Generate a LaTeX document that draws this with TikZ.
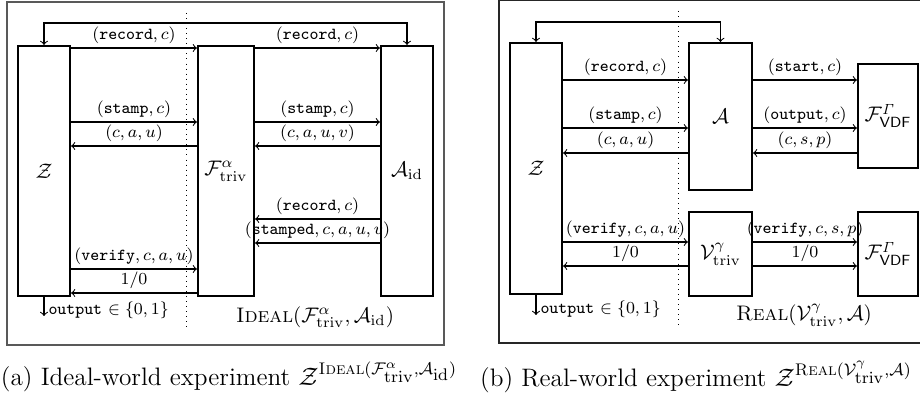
\documentclass[tikz,border=0pt]{standalone}
\usepackage{amsmath,amssymb}
\newcommand\pxs{0.475pt}
\begin{document}
\begin{tikzpicture}[x=0.475pt,y=-0.475pt,
  box/.style={draw, line width=1pt, inner sep=0pt, minimum width=#1*\pxs},
  arr/.style={->, line width=0.5pt},
  lbl/.style={above, font=\footnotesize, inner sep=1.6pt},
  frame/.style={line width=0.6pt},
  captxt/.style={font=\large, inner sep=1pt}]
\useasboundingbox (0,0) rectangle (920,397);
% ---------------- left panel ----------------
\draw[frame, black!65] (7,2) rectangle (444,345);
\draw[dotted] (186,13) -- (186,327);
\node[box=52, minimum height=250*\pxs] (Z1) at (44,171) {$\mathcal{Z}$};
\node[box=56, minimum height=250*\pxs] (F1) at (226,171) {$\mathcal{F}^{\alpha}_{\mathrm{triv}}$};
\node[box=52, minimum height=250*\pxs] (A1) at (407,171) {$\mathcal{A}_{\mathrm{id}}$};
\draw[<->, line width=0.5pt] (Z1.north) -- (Z1.north |- 0,23) -- (A1.north |- 0,23) -- (A1.north);
\draw[arr] (Z1.east |- 0,48) -- (F1.west |- 0,48) node[midway,lbl] {$(\texttt{record},c)$};
\draw[arr] (F1.east |- 0,48) -- (A1.west |- 0,48) node[midway,lbl] {$(\texttt{record},c)$};
\draw[arr] (Z1.east |- 0,122) -- (F1.west |- 0,122) node[midway,lbl] {$(\texttt{stamp},c)$};
\draw[arr] (F1.east |- 0,122) -- (A1.west |- 0,122) node[midway,lbl] {$(\texttt{stamp},c)$};
\draw[arr] (F1.west |- 0,146) -- (Z1.east |- 0,146) node[midway,lbl] {$(c,a,u)$};
\draw[arr] (A1.west |- 0,146) -- (F1.east |- 0,146) node[midway,lbl] {$(c,a,u,v)$};
\draw[arr] (A1.west |- 0,219) -- (F1.east |- 0,219) node[midway,lbl] {$(\texttt{record},c)$};
\draw[arr] (A1.west |- 0,243) -- (F1.east |- 0,243) node[midway,lbl] {$(\texttt{stamped},c,a,u,v)$};
\draw[arr] (Z1.east |- 0,269) -- (F1.west |- 0,269) node[midway,lbl] {$(\texttt{verify},c,a,u)$};
\draw[arr] (F1.west |- 0,293) -- (Z1.east |- 0,293) node[midway,lbl] {$1/0$};
\coordinate (o1) at (44,316);
\draw[arr] (Z1.south) -- (o1);
\node[anchor=west, font=\footnotesize, inner sep=1pt] (ol1) at (46,310) {\texttt{output} $\in\{0,1\}$};
\node (idl) at (315,317) {$\textsc{Ideal}(\mathcal{F}^{\alpha}_{\mathrm{triv}},\mathcal{A}_{\mathrm{id}})$};
\node[captxt] (capa) at (229,377) {(a) Ideal-world experiment $\mathcal{Z}^{\textsc{Ideal}(\mathcal{F}^{\alpha}_{\scriptstyle\mathrm{triv}},\mathcal{A}_{\scriptstyle\mathrm{id}})}$};
% ---------------- right panel ----------------
\draw[frame, black!85] (499,0.5) rectangle (930,343);
\draw[dotted] (678,11) -- (678,325);
\node[box=52, minimum height=251*\pxs] (Z2) at (536,168.5) {$\mathcal{Z}$};
\node[box=63, minimum height=147*\pxs] (A2) at (720.5,116.5) {$\mathcal{A}$};
\node[box=60, minimum height=104*\pxs] (V1) at (888,116) {$\mathcal{F}^{\mathit{\Gamma}}_{\mathsf{VDF}}$};
\node[box=63, minimum height=84*\pxs] (Vt) at (720.5,254) {$\mathcal{V}^{\gamma}_{\mathrm{triv}}$};
\node[box=60, minimum height=84*\pxs] (V2) at (888,254) {$\mathcal{F}^{\mathit{\Gamma}}_{\mathsf{VDF}}$};
\draw[<->, line width=0.5pt] (Z2.north) -- (Z2.north |- 0,22) -- (A2.north |- 0,22) -- (A2.north);
\draw[arr] (Z2.east |- 0,80) -- (A2.west |- 0,80) node[midway,lbl] {$(\texttt{record},c)$};
\draw[arr] (Z2.east |- 0,128) -- (A2.west |- 0,128) node[midway,lbl] {$(\texttt{stamp},c)$};
\draw[arr] (A2.west |- 0,153) -- (Z2.east |- 0,153) node[midway,lbl] {$(c,a,u)$};
\draw[arr] (A2.east |- 0,80) -- (V1.west |- 0,80) node[midway,lbl] {$(\texttt{start},c)$};
\draw[arr] (A2.east |- 0,128) -- (V1.west |- 0,128) node[midway,lbl] {$(\texttt{output},c)$};
\draw[arr] (V1.west |- 0,153) -- (A2.east |- 0,153) node[midway,lbl] {$(c,s,p)$};
\draw[arr] (Z2.east |- 0,242) -- (Vt.west |- 0,242) node[midway,lbl] {$(\texttt{verify},c,a,u)$};
\draw[arr] (Vt.west |- 0,266) -- (Z2.east |- 0,266) node[midway,lbl] {$1/0$};
\draw[arr] (Vt.east |- 0,242) -- (V2.west |- 0,242) node[midway,lbl] {$(\texttt{verify},c,s,p)$};
\draw[arr] (Vt.east |- 0,266) -- (V2.west |- 0,266) node[midway,lbl] {$1/0$};
\coordinate (o2) at (536,315);
\draw[arr] (Z2.south) -- (o2);
\node[anchor=west, font=\footnotesize, inner sep=1pt] (ol2) at (538,309) {\texttt{output} $\in\{0,1\}$};
\node (rl) at (804,315) {$\textsc{Real}(\mathcal{V}^{\gamma}_{\mathrm{triv}},\mathcal{A})$};
\node[captxt] (capb) at (696,377) {(b) Real-world experiment $\mathcal{Z}^{\textsc{Real}(\mathcal{V}^{\gamma}_{\scriptstyle\mathrm{triv}},\mathcal{A})}$};
\end{tikzpicture}
\end{document}
